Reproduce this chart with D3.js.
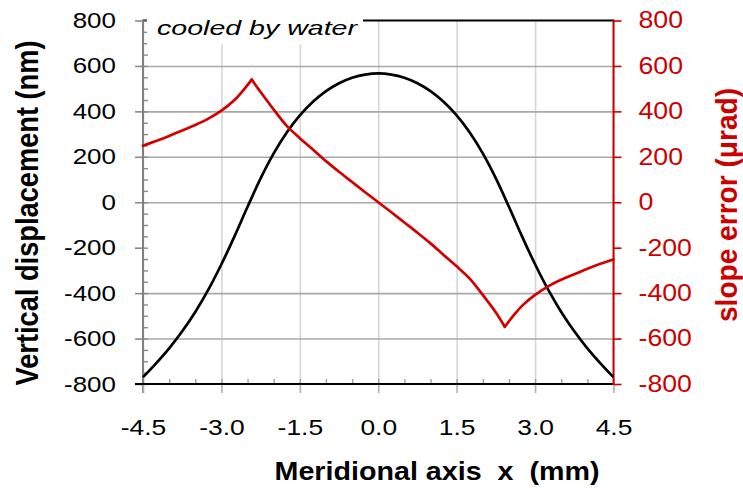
<!DOCTYPE html>
<html>
<head>
<meta charset="utf-8">
<script src="https://cdn.jsdelivr.net/npm/d3@7"></script>
<style>
  html, body { margin: 0; padding: 0; background: #fff; }
  svg { display: block; }
  text { font-family: "Liberation Sans", Arial, sans-serif; }
</style>
</head>
<body>
<svg id="chart" width="743" height="488"></svg>
<script>
// Meridional axis positions (mm) and tick labels
const xTicks = [-4.5, -3.0, -1.5, 0.0, 1.5, 3.0, 4.5];
const yTicks = [-800, -600, -400, -200, 0, 200, 400, 600, 800];
const yGrid = [-600, -400, 0, 200, 400, 600];

// Vertical displacement (nm), left axis
const dispX = [-4.5, -4.25, -4.0, -3.75, -3.5, -3.25, -3.0, -2.75, -2.5, -2.25, -2.0, -1.75, -1.5, -1.25, -1.0, -0.75, -0.5, -0.25, 0,
               0.25, 0.5, 0.75, 1.0, 1.25, 1.5, 1.75, 2.0, 2.25, 2.5, 2.75, 3.0, 3.25, 3.5, 3.75, 4.0, 4.25, 4.5];
const dispY = [-770, -709, -643, -568, -483, -385, -273, -150, -20, 105, 215, 307, 382, 442, 489, 524, 548, 562, 567,
               562, 548, 524, 489, 442, 382, 307, 215, 105, -20, -150, -273, -385, -483, -568, -643, -709, -770];

// Slope error (µrad), right axis
const slopeX = [-4.5, -4.25, -4.0, -3.75, -3.5, -3.25, -3.0, -2.75, -2.6, -2.42, -2.25, -2.0, -1.75, -1.5, -1.25, -1.0, -0.75, -0.5, -0.25, 0,
                0.25, 0.5, 0.75, 1.0, 1.25, 1.5, 1.75, 2.0, 2.25, 2.42, 2.6, 2.75, 3.0, 3.25, 3.5, 3.75, 4.0, 4.25, 4.5];
const slopeY = [249, 270, 292, 316, 340, 368, 403, 450, 488, 540, 485, 408, 336, 282, 232, 181, 134, 89, 44, 0,
                -44, -89, -134, -181, -232, -282, -336, -408, -485, -548, -495, -456, -408, -370, -341, -317, -293, -271, -252];

const RED = "#cc0000";
const svg = d3.select("#chart");

const x = d3.scaleLinear().domain([-4.5, 4.5]).range([143, 613.5]);
const yL = d3.scaleLinear().domain([-800, 800]).range([384, 20.5]);
const yR = d3.scaleLinear().domain([-800, 800]).range([384, 20.5]);
const [x0, x1] = x.range();
const [yB, yT] = yL.range();

// widen rendered labels horizontally
function widen(sel, k) {
  sel.each(function () {
    const w = this.getComputedTextLength();
    d3.select(this).attr("textLength", w * k).attr("lengthAdjust", "spacingAndGlyphs");
  });
}

// vertical grid
svg.append("g")
  .attr("transform", `translate(0,${yT})`)
  .call(d3.axisTop(x).tickValues(xTicks).tickSize(yT - yB).tickFormat(""))
  .call(g => g.select(".domain").remove())
  .call(g => g.selectAll("line").attr("stroke", "#d6d6d6").attr("stroke-width", 1.6));

// horizontal grid
svg.append("g")
  .attr("transform", `translate(${x0},0)`)
  .call(d3.axisRight(yL).tickValues(yGrid).tickSize(x1 - x0).tickFormat(""))
  .call(g => g.select(".domain").remove())
  .call(g => g.selectAll("line").attr("stroke", "#a9a9a9").attr("stroke-width", 1.6));

// top border
svg.append("line")
  .attr("x1", x0).attr("x2", x1).attr("y1", yT).attr("y2", yT)
  .attr("stroke", "#000").attr("stroke-width", 2);

// left axis: minor ticks inside
svg.append("g")
  .attr("transform", `translate(${x0},0)`)
  .call(d3.axisRight(yL).tickValues(d3.range(-800, 801, 50)).tickSize(5).tickFormat(""))
  .call(g => g.select(".domain").remove())
  .call(g => g.selectAll("line").attr("stroke", "#8a8a8a").attr("stroke-width", 1.4));

// bottom axis: minor ticks inside
svg.append("g")
  .attr("transform", `translate(0,${yB})`)
  .call(d3.axisTop(x).tickValues(d3.range(-4.5, 4.51, 0.5)).tickSize(5).tickFormat(""))
  .call(g => g.select(".domain").remove())
  .call(g => g.selectAll("line").attr("stroke", "#a0a0a0").attr("stroke-width", 1.4));

// left axis
const gL = svg.append("g")
  .attr("transform", `translate(${x0},0)`)
  .call(d3.axisLeft(yL).tickValues(yTicks).tickSize(8).tickPadding(19).tickFormat(d => String(d)));
gL.select(".domain").remove();
gL.selectAll("line").attr("stroke", "#8a8a8a").attr("stroke-width", 1.6);
gL.selectAll("text").attr("font-size", 22).attr("fill", "#000").call(widen, 1.18);
svg.append("line")
  .attr("x1", x0).attr("x2", x0).attr("y1", yT - 1).attr("y2", yB + 9)
  .attr("stroke", "#808080").attr("stroke-width", 2);

// bottom axis
const gB = svg.append("g")
  .attr("transform", `translate(0,${yB})`)
  .call(d3.axisBottom(x).tickValues(xTicks).tickSize(9).tickPadding(26).tickFormat(d => d.toFixed(1)));
gB.select(".domain").remove();
gB.selectAll("line").attr("stroke", "#b0b0b0").attr("stroke-width", 1.6);
gB.selectAll("text").attr("font-size", 22).attr("fill", "#000").call(widen, 1.2);
svg.append("line")
  .attr("x1", x0 - 8).attr("x2", x1).attr("y1", yB).attr("y2", yB)
  .attr("stroke", "#000").attr("stroke-width", 2);

// right axis
const gR = svg.append("g")
  .attr("transform", `translate(${x1},0)`)
  .call(d3.axisRight(yR).tickValues(yTicks).tickSize(8).tickPadding(17).tickFormat(d => String(d)));
gR.select(".domain").remove();
gR.selectAll("line").attr("stroke", RED).attr("stroke-width", 1.6);
gR.selectAll("text").attr("font-size", 23).attr("fill", RED).call(widen, 1.16);
svg.append("line")
  .attr("x1", x1).attr("x2", x1).attr("y1", yT - 1).attr("y2", yB)
  .attr("stroke", RED).attr("stroke-width", 2);

// displacement curve
const lineL = d3.line().x(d => x(d[0])).y(d => yL(d[1])).curve(d3.curveCatmullRom.alpha(0.5));
svg.append("path")
  .datum(dispX.map((v, i) => [v, dispY[i]]))
  .attr("d", lineL)
  .attr("fill", "none").attr("stroke", "#000").attr("stroke-width", 2.7);

// slope error curve, split at its cusps so the kinks stay sharp
const lineR = d3.line().x(d => x(d[0])).y(d => yR(d[1])).curve(d3.curveCatmullRom.alpha(0.5));
const slopePts = slopeX.map((v, i) => [v, slopeY[i]]);
const cusps = [slopeY.indexOf(d3.max(slopeY)), slopeY.indexOf(d3.min(slopeY))];
const bounds = [0, ...cusps, slopePts.length - 1];
for (let s = 0; s < bounds.length - 1; s++) {
  svg.append("path")
    .datum(slopePts.slice(bounds[s], bounds[s + 1] + 1))
    .attr("d", lineR)
    .attr("fill", "none").attr("stroke", "#d40000").attr("stroke-width", 2.7)
    .attr("stroke-linejoin", "round").attr("stroke-linecap", "round");
}

// annotation box
svg.append("rect")
  .attr("x", x0 + 4).attr("y", yT - 4).attr("width", 216).attr("height", 28)
  .attr("fill", "#fff");
svg.append("text")
  .attr("x", 157).attr("y", 35)
  .attr("font-family", "'DejaVu Sans', Verdana, sans-serif")
  .attr("font-style", "italic").attr("font-size", 21)
  .attr("textLength", 200).attr("lengthAdjust", "spacingAndGlyphs")
  .text("cooled by water");

// axis titles
svg.append("text")
  .attr("x", 437).attr("y", 480)
  .attr("text-anchor", "middle").attr("font-weight", "bold").attr("font-size", 25)
  .attr("textLength", 325).attr("lengthAdjust", "spacingAndGlyphs")
  .text("Meridional axis\u00a0\u00a0x\u00a0\u00a0(mm)");

svg.append("g")
  .attr("transform", "translate(38,213) scale(1.15,1) rotate(-90)")
  .append("text")
  .attr("text-anchor", "middle").attr("font-weight", "bold").attr("font-size", 28)
  .attr("textLength", 345).attr("lengthAdjust", "spacingAndGlyphs")
  .text("Vertical displacement\u00a0(nm)");

svg.append("g")
  .attr("transform", "translate(737,205) scale(1.15,1) rotate(-90)")
  .append("text")
  .attr("text-anchor", "middle").attr("font-weight", "bold").attr("font-size", 25)
  .attr("fill", RED)
  .attr("textLength", 234).attr("lengthAdjust", "spacingAndGlyphs")
  .text("slope error (μrad)");
</script>
</body>
</html>
